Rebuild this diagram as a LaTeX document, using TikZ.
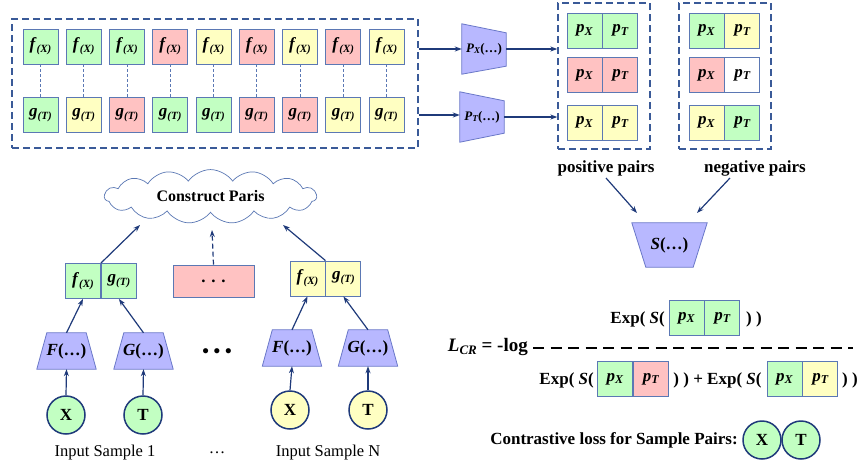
\documentclass[tikz,border=0pt]{standalone}
\usepackage{fontspec}
\setmainfont{Liberation Serif}
\usetikzlibrary{shapes.symbols,calc,arrows.meta,backgrounds}
\definecolor{cg}{HTML}{C2FFC2}
\definecolor{cr}{HTML}{FFC2C2}
\definecolor{cy}{HTML}{FFFFC2}
\definecolor{cb}{HTML}{5B78B4}
\definecolor{cdash}{HTML}{3A5A98}
\definecolor{cp}{HTML}{B8B8FF}
\definecolor{cpb}{HTML}{6A78C8}
\definecolor{cn}{HTML}{1F3A7A}
\newcommand{\bi}[1]{\textbf{\textit{#1}}}
\newcommand{\fX}{\bi{f}\raisebox{-0.35ex}{\fontsize{11}{11}\selectfont\bi{(X)}}}
\newcommand{\gT}{\bi{g}\raisebox{-0.35ex}{\fontsize{11}{11}\selectfont\bi{(T)}}}
\newcommand{\pX}{\bi{p}\raisebox{-0.3ex}{\fontsize{12}{12}\selectfont\bi{X}}}
\newcommand{\pT}{\bi{p}\raisebox{-0.3ex}{\fontsize{12}{12}\selectfont\bi{T}}}
\tikzset{
  cell/.style={draw=cb, line width=0.9pt, minimum width=35pt, minimum height=35pt, inner sep=0pt, font=\fontsize{17}{17}\selectfont},
  dbox/.style={draw=cdash, line width=1.3pt, dash pattern=on 7pt off 4pt},
  link/.style={draw=cb, line width=0.7pt, dash pattern=on 3pt off 2pt},
  arr/.style={draw=cn, line width=1.2pt, -{Stealth[length=7pt,width=5pt]}},
  trap/.style={draw=cpb, fill=cp, line width=0.8pt},
  tnode/.style={inner sep=0pt, minimum width=59pt, minimum height=36pt, font=\fontsize{17}{17}\selectfont\bfseries},
  circ/.style={circle, draw=cn, line width=1.5pt, minimum size=38pt, inner sep=0pt, font=\fontsize{17}{17}\selectfont\bfseries},
  lbl/.style={font=\fontsize{17}{17}\selectfont\bfseries, inner sep=0pt},
  plain/.style={font=\fontsize{16.5}{16.5}\selectfont, inner sep=0pt}
}
\newcommand{\trapup}[1]{\begin{pgfonlayer}{background}\draw[trap] (#1.south west) -- (#1.south east) -- ($(#1.north east)+(-10,0)$) -- ($(#1.north west)+(10,0)$) -- cycle;\end{pgfonlayer}}
\begin{document}
\begin{tikzpicture}[x=1pt,y=-1pt]
\useasboundingbox (0,0) rectangle (860,467);

% ---- top feature grid ----
\foreach \i/\cf/\cgc in {1/cg/cg,2/cg/cy,3/cg/cr,4/cr/cg,5/cy/cg,6/cr/cr,7/cy/cr,8/cr/cy,9/cy/cy}{
  \node[cell, fill=\cf] (f\i) at ({40.5+43.25*(\i-1)},46.5) {\fX};
  \node[cell, fill=\cgc] (g\i) at ({40.5+43.25*(\i-1)},115) {\gT};
  \draw[link] (f\i.south) -- (g\i.north);
}
\node[dbox, inner sep=0pt, minimum width=406pt, minimum height=129pt] (feat) at (215,83.5) {};

% ---- projection heads ----
\node[inner sep=0pt, minimum width=44pt, minimum height=50pt, font=\fontsize{13}{13}\selectfont] (PX) at (484,49) {\bi{P}\raisebox{-0.3ex}{\fontsize{9}{9}\selectfont\bi{X}}\textbf{(…)}};
\begin{pgfonlayer}{background}
\draw[trap] (PX.north west) -- ($(PX.north east)+(0,9)$) -- ($(PX.south east)+(0,-8)$) -- (PX.south west) -- cycle;
\end{pgfonlayer}
\node[inner sep=0pt, minimum width=44pt, minimum height=50pt, font=\fontsize{13}{13}\selectfont] (PT) at (482,117) {\bi{P}\raisebox{-0.3ex}{\fontsize{9}{9}\selectfont\bi{T}}\textbf{(…)}};
\begin{pgfonlayer}{background}
\draw[trap] (PT.north west) -- ($(PT.north east)+(0,9)$) -- ($(PT.south east)+(0,-9)$) -- (PT.south west) -- cycle;
\end{pgfonlayer}

% ---- positive / negative pairs ----
\foreach \r/\yy/\ca/\cb/\na/\nb in {1/30.5/cg/cg/cg/cy, 2/75/cr/cr/cr/white, 3/122.5/cy/cy/cy/cg}{
  \node[cell, fill=\ca] (pa\r) at (584.5,\yy) {\pX};
  \node[cell, fill=\cb, anchor=west] (pb\r) at (pa\r.east) {\pT};
  \node[cell, fill=\na] (na\r) at (706.5,\yy) {\pX};
  \node[cell, fill=\nb, anchor=west] (nb\r) at (na\r.east) {\pT};
}
\node[dbox, inner sep=0pt, minimum width=92pt, minimum height=146pt] (pos) at (604,76) {};
\node[dbox, inner sep=0pt, minimum width=92pt, minimum height=146pt] (neg) at (725,76) {};
\node[lbl] (poslbl) at (606,168) {positive pairs};
\node[lbl] (neglbl) at (755,168) {negative pairs};

\draw[arr] (feat.east |- PX.west) -- (PX.west);
\draw[arr] ($(feat.east)+(0,31.5)$) -- ($(PT.west)+(0,-2)$);
\draw[arr] (PX.east) -- (PX.east -| pos.west);
\draw[arr] (PT.east) -- (PT.east -| pos.west);

% ---- similarity head ----
\node[tnode, minimum width=75pt, minimum height=44pt] (S) at (669.5,245) {\textit{S}(…)};
\begin{pgfonlayer}{background}
\draw[trap] (S.north west) -- (S.north east) -- ($(S.south east)+(-14,0)$) -- ($(S.south west)+(14,0)$) -- cycle;
\end{pgfonlayer}
\coordinate (s1) at (606,178);
\coordinate (s2) at (730,178);
\coordinate (e1) at (637,213);
\coordinate (e2) at (697,213);
\draw[arr] (s1) -- (e1);
\draw[arr] (s2) -- (e2);

% ---- bottom left ----
\node[cloud, cloud puffs=15, cloud puff arc=110, aspect=4, draw=cb, line width=0.7pt, fill=white, minimum width=212pt, minimum height=52pt, inner sep=0pt, font=\fontsize{16}{16}\selectfont\bfseries] (cloud) at (210.5,196.5) {Construct Paris};

\node[cell, fill=cg] (lf) at (83,281) {\fX};
\node[cell, fill=cg, anchor=west] (lg) at (lf.east) {\gT};
\node[cell, fill=cr, minimum width=81pt, minimum height=32pt] (mid) at (213.5,281) {\textbf{. . .}};
\node[cell, fill=cy] (rf) at (307.5,278.5) {\fX};
\node[cell, fill=cy, anchor=west] (rg) at (rf.east) {\gT};

\coordinate (c1) at (140,225);
\coordinate (c2) at (212,230);
\coordinate (c3) at (283,225);
\draw[arr] (lf.north east) -- (c1);
\draw[arr, dash pattern=on 5pt off 3pt] (mid.north) -- (c2);
\draw[arr] (rf.north east) -- (c3);

\node[tnode] (F1) at (66.5,351) {\textit{F}(…)};
\trapup{F1}
\node[tnode] (G1) at (143.5,351) {\textit{G}(…)};
\trapup{G1}
\node[tnode] (F2) at (292,348) {\textit{F}(…)};
\trapup{F2}
\node[tnode] (G2) at (368,348) {\textit{G}(…)};
\trapup{G2}

\draw[arr] (F1.north) -- (lf.south);
\draw[arr] (G1.north) -- (lg.south);
\draw[arr] (F2.north) -- (rf.south);
\draw[arr] (G2.north) -- (rg.south);

\node[circ, fill=cg] (X1) at (66,415) {X};
\node[circ, fill=cg] (T1) at (143,415) {T};
\node[circ, fill=cy] (X2) at (290,410) {X};
\node[circ, fill=cy] (T2) at (368,410) {T};
\draw[arr] (X1.north) -- (F1.south);
\draw[arr] (T1.north) -- (G1.south);
\draw[arr] (X2.north) -- (F2.south);
\draw[arr] (T2.north) -- (G2.south);

\node[lbl, font=\fontsize{19}{19}\selectfont\bfseries] (dots) at (217,353) {• • •};
\node[plain] (in1) at (105,453) {Input Sample 1};
\node[plain] (indots) at (217,453) {…};
\node[plain] (inN) at (328,453) {Input Sample N};

% ---- loss formula ----
\node[lbl, anchor=east] (n1) at (665,319) {Exp( \textit{S}(};
\node[cell, fill=cg] (na) at (686.5,318) {\pX};
\node[cell, fill=cg, anchor=west] (nb) at (na.east) {\pT};
\node[lbl, anchor=west] (n2) at (746,319) {) )};

\node[lbl, anchor=east, font=\fontsize{19}{19}\selectfont\bfseries] (lcr) at (528,347) {\textit{L}\raisebox{-0.35ex}{\fontsize{13}{13}\selectfont\textit{CR}} = -log};
\draw[black, line width=1.6pt, dash pattern=on 11pt off 6.5pt] (533,348) -- (853,348);

\node[lbl, anchor=east] (d1) at (594,380) {Exp( \textit{S}(};
\node[cell, fill=cg] (da) at (615,379) {\pX};
\node[cell, fill=cr, anchor=west] (db) at (da.east) {\pT};
\node[lbl] (d2) at (717.5,380) {) ) + Exp( \textit{S}(};
\node[cell, fill=cg] (dc) at (784.5,379) {\pX};
\node[cell, fill=cy, anchor=west] (dd) at (dc.east) {\pT};
\node[lbl, anchor=west] (d3) at (842,380) {) )};

\node[lbl] (cl) at (614,440) {Contrastive loss for Sample Pairs:};
\node[circ, fill=cg] (cx) at (762,440) {X};
\node[circ, fill=cg] (ct) at (801,440) {T};
\end{tikzpicture}
\end{document}
